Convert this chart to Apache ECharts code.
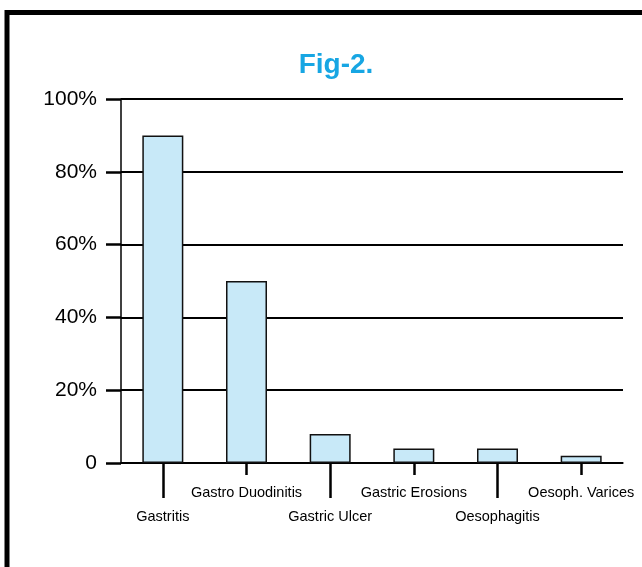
<!DOCTYPE html>
<html>
<head>
<meta charset="utf-8">
<script src="https://cdn.jsdelivr.net/npm/echarts@6/dist/echarts.min.js"></script>
<style>
html,body{margin:0;padding:0;background:#fff;}
#chart{width:642px;height:567px;}
</style>
</head>
<body>
<div id="chart"></div>
<script>
var categories = ['Gastritis', 'Gastro Duodinitis', 'Gastric Ulcer', 'Gastric Erosions', 'Oesophagitis', 'Oesoph. Varices'];
var values = [90, 50, 8, 4, 4, 2];
var yTicks = [0, 20, 40, 60, 80, 100];
var titleText = 'Fig-2.';

var chart = echarts.init(document.getElementById('chart'), null, {renderer: 'canvas'});
var font = 'Liberation Sans, Arial, sans-serif';
var option = {
  animation: false,
  backgroundColor: '#ffffff',
  title: {
    text: titleText,
    left: 331,
    textAlign: 'center',
    top: 46,
    textStyle: {color: '#17a6e3', fontSize: 28, fontWeight: 'bold', fontFamily: font}
  },
  graphic: [{
    type: 'polyline',
    shape: {points: [[7, 700], [7, 12.5], [700, 12.5]]},
    style: {stroke: '#000', lineWidth: 5, fill: null},
    silent: true
  }],
  grid: {left: 121, right: 19, top: 99, bottom: 104, containLabel: false},
  xAxis: [{
    type: 'category',
    data: categories,
    position: 'bottom',
    axisLine: {show: true, lineStyle: {color: '#000', width: 1.5}},
    axisTick: {show: true, alignWithLabel: true, length: 35, lineStyle: {color: '#000', width: 2.5},
      interval: function (i) { return i % 2 === 0; }},
    axisLabel: {show: true, margin: 46, color: '#000', fontSize: 14.5, fontFamily: font,
      interval: function (i) { return i % 2 === 0; }},
    splitLine: {show: false}
  }, {
    type: 'category',
    data: categories,
    position: 'bottom',
    axisLine: {show: false},
    axisTick: {show: true, alignWithLabel: true, length: 12, lineStyle: {color: '#000', width: 2.5},
      interval: function (i) { return i % 2 === 1; }},
    axisLabel: {show: true, margin: 22, color: '#000', fontSize: 14.5, fontFamily: font,
      interval: function (i) { return i % 2 === 1; }},
    splitLine: {show: false}
  }],
  yAxis: {
    type: 'value',
    min: yTicks[0],
    max: yTicks[yTicks.length - 1],
    interval: yTicks[1] - yTicks[0],
    axisLine: {show: true, lineStyle: {color: '#000', width: 1.5}},
    axisTick: {show: true, inside: false, length: 15, lineStyle: {color: '#000', width: 2.5}},
    axisLabel: {margin: 24, color: '#000', fontSize: 21, fontFamily: font,
      formatter: function (v) { return v === 0 ? '0' : v + '%'; }},
    splitLine: {show: true, lineStyle: {color: '#000', width: 2}}
  },
  series: [{
    type: 'bar',
    xAxisIndex: 0,
    data: values,
    barWidth: '49%',
    itemStyle: {color: '#c8e9f8', borderColor: '#111', borderWidth: 1.5},
    z: 3
  }]
};
chart.setOption(option);
</script>
</body>
</html>
